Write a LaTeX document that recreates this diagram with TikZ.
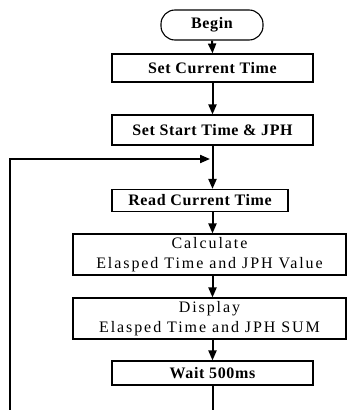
\documentclass[tikz,border=0pt]{standalone}
\usepackage{fontspec}
\setmainfont{Liberation Serif}
\usetikzlibrary{arrows.meta}
\tikzset{
  box/.style={draw, line width=1.1pt, inner sep=0pt, align=center},
  term/.style={draw, line width=1.1pt, rounded corners=14pt, inner sep=0pt},
  flow/.style={line width=2pt, -{Triangle[length=10pt,width=8pt]}},
  plain/.style={line width=2pt},
  lab/.style={font=\fontsize{16}{18}\selectfont\bfseries\addfontfeatures{LetterSpace=4}},
  labr/.style={font=\fontsize{16}{20}\selectfont\addfontfeatures{LetterSpace=12}}
}
\begin{document}
\begin{tikzpicture}[x=1pt,y=-1pt]
\useasboundingbox (0,0) rectangle (348,410);
\node[term, lab, minimum width=102pt, minimum height=30pt] (begin) at (212,25) {Begin};
\node[box, lab, minimum width=201pt, minimum height=28pt] (set1) at (212.5,68) {Set Current Time};
\node[box, lab, minimum width=201pt, minimum height=30pt] (set2) at (212.5,130) {Set Start Time \& JPH};
\node[box, lab, minimum width=176pt, minimum height=22pt] (read) at (200,200.5) {Read Current Time};
\node[box, labr, minimum width=273pt, minimum height=41pt] (calc) at (209.5,254.5) {Calculate\\Elasped Time and JPH Value};
\node[box, labr, minimum width=273pt, minimum height=41pt] (disp) at (209.5,318.5) {Display\\Elasped Time and JPH SUM};
\node[box, lab, minimum width=201pt, minimum height=24pt] (wait) at (212.5,373) {Wait 500ms};
\coordinate (bot) at (212.5,410);
\coordinate (lbot) at (10,410);
\coordinate (join) at (210,159);
\draw[flow] (begin.south) -- (set1.north);
\draw[flow] (set1.south) -- (set2.north);
\draw[flow] (set2.south) -- (set2.south |- read.north);
\draw[flow] (set2.south |- read.south) -- (set2.south |- calc.north);
\draw[flow] (set2.south |- calc.south) -- (set2.south |- disp.north);
\draw[flow] (set2.south |- disp.south) -- (wait.north);
\draw[plain] (wait.south) -- (bot);
\draw[flow] (lbot) |- (join);
\end{tikzpicture}
\end{document}
